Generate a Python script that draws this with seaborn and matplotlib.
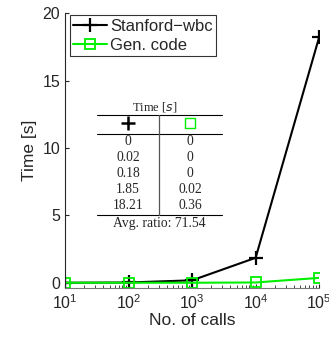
import numpy as np
import pandas as pd
import matplotlib
matplotlib.use("Agg")
import matplotlib.pyplot as plt
import seaborn as sns

# data
calls = [10, 100, 1000, 10000, 100000]
stanford = [0, 0.02, 0.18, 1.85, 18.21]
gen_code = [0, 0, 0, 0.02, 0.36]
stanford_lbl = ["0", "0.02", "0.18", "1.85", "18.21"]
gen_lbl = ["0", "0", "0", "0.02", "0.36"]
avg_ratio = "Avg. ratio: 71.54"

sns.set_style("ticks")
plt.rcParams['font.family'] = ['Liberation Sans', 'DejaVu Sans']

fig = plt.figure(figsize=(3.29, 3.37), dpi=100)
ax = fig.add_axes([0.198, 0.145, 0.772, 0.816])

df = pd.DataFrame({"calls": calls, "Stanford-wbc": stanford, "Gen. code": gen_code})
sns.lineplot(data=df, x="calls", y="Stanford-wbc", ax=ax, color="black", lw=1.5,
             marker="+", markersize=10, markeredgewidth=1.6, markeredgecolor="black",
             label="Stanford\u2212wbc")
sns.lineplot(data=df, x="calls", y="Gen. code", ax=ax, color="#00ee00", lw=1.5,
             marker="s", markersize=7, markerfacecolor="none", markeredgecolor="#00ee00",
             markeredgewidth=1.3, label="Gen. code")

ax.set_xscale("log")
ax.set_xlim(10, 1e5)
ax.set_ylim(-0.4, 20)
ax.set_yticks([0, 5, 10, 15, 20])
ax.set_xticks([10, 100, 1000, 10000, 100000])
ax.tick_params(direction="in", labelsize=11.5, length=3)
ax.tick_params(which="minor", direction="in", length=2)
ax.spines["top"].set_visible(False)
ax.spines["right"].set_visible(False)
ax.spines["bottom"].set_color("#777777")
ax.set_xlabel("No. of calls", fontsize=12.5, labelpad=1)
ax.set_ylabel("Time [s]", fontsize=12.5, labelpad=4)

leg = ax.legend(loc="upper left", bbox_to_anchor=(0.0, 1.01), fontsize=12,
                frameon=True, fancybox=False, edgecolor="black",
                handlelength=2.0, handletextpad=0.2, borderpad=0.2,
                labelspacing=0.25, borderaxespad=0.3)
leg.get_frame().set_linewidth(0.8)

# inset table (figure coordinates in pixels)
W, H = 329, 337
def fx(x): return x / W
def fy(y): return 1 - y / H
serif = ['Liberation Serif', 'DejaVu Serif']
fig.text(fx(155), fy(107), "Time [$s$]", ha="center", va="center", fontsize=9, family=serif)
for y in (115, 134, 215):
    fig.add_artist(plt.Line2D([fx(97), fx(222)], [fy(y), fy(y)], color="black", lw=0.8))
fig.add_artist(plt.Line2D([fx(159), fx(159)], [fy(115), fy(215)], color="#555555", lw=0.9))
fig.add_artist(plt.Line2D([fx(128)], [fy(123)], marker="+", color="black", markersize=10, markeredgewidth=1.8))
fig.add_artist(plt.Line2D([fx(190)], [fy(123)], marker="s", color="#00ee00", markersize=7,
                          markerfacecolor="none", markeredgewidth=1))
for i, (a, b) in enumerate(zip(stanford_lbl, gen_lbl)):
    y = 141.5 + i * 16
    fig.text(fx(128), fy(y), a, ha="center", va="center", fontsize=9.8, family=serif)
    fig.text(fx(190), fy(y), b, ha="center", va="center", fontsize=9.8, family=serif)
fig.text(fx(159), fy(223), avg_ratio, ha="center", va="center", fontsize=9.8, family=serif)

fig.savefig("out.png", dpi=100)
